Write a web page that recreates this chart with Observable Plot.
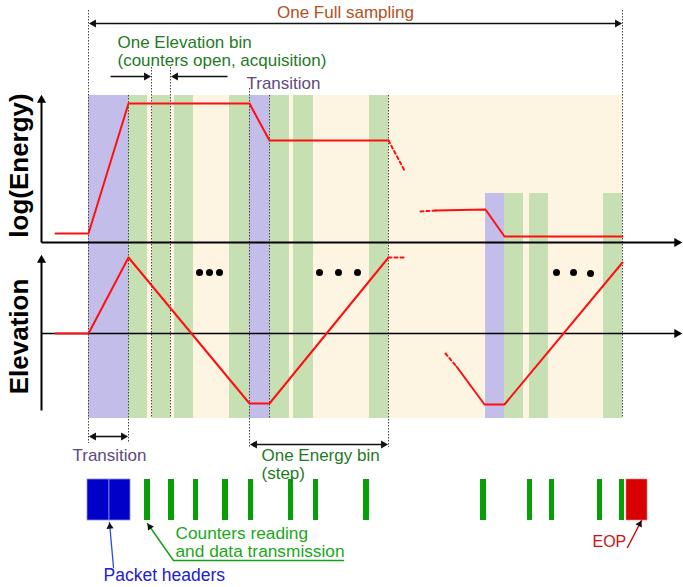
<!DOCTYPE html>
<html><head><meta charset="utf-8">
<script src="https://cdn.jsdelivr.net/npm/d3@7"></script>
<script src="https://cdn.jsdelivr.net/npm/@observablehq/plot@0.6"></script>
<style>body{margin:0;background:#fff}#chart svg{display:block}</style>
</head><body><div id="chart"></div>
<script>
// ---- schematic timeline data (time units along x, level units along y) ----
const samplingSpan = [88, 622];           // one full sampling: start / end time
const panelSpan = [95, 418];              // top / bottom of the acquisition panel
// transition periods [start, end, top level]
const transitions = [[88,128,95],[249,269,95],[485,504,193]];
// acquisition (counters open) periods [start, end, top level]
const acquisitions = [[128,147,95],[152,170,95],[174,193,95],[229,249,95],[269,289,95],[293,313,95],[369,388,95],
                      [504,523,193],[529,548,193],[603,622,193]];
// boundaries marked with dotted lines [time, from, to]
const boundaries = [[88,10,443],[128,95,443],[151,67,418],[170,67,418],[249,88,447],[269,95,418],[388,95,447],[622,10,418]];

// log(Energy) profile
const energySolidA = [[55,233],[88,233],[128,103],[249,103],[269,140],[388,140]];
const energyDashA  = [[388,140],[404,170]];
const energyDashB  = [[420,211],[435,210]];
const energySolidB = [[435,210],[485,209],[504,236],[622,236]];
// Elevation profile
const elevSolidA = [[55,333],[88,333],[128,257],[249,403],[269,403],[388,257]];
const elevDashA  = [[388,257],[403,257]];
const elevDashB  = [[445,353],[456,366]];
const elevSolidB = [[456,366],[484,404],[504,404],[622,262]];
// ellipsis dots
const ellipsis = [[199,272],[209,272],[219,272],[319,272],[338,272],[357,272],[556,272],[573,272],[590,273]];

// packet stream
const packetRow = [479, 520];
const headerPackets = [[87,109],[109,130]];
const dataPackets = [[144,150],[168,174],[193,198],[222,228],[248,253],[288,293],[313,318],[363,369],
                     [480,486],[527,532],[549,554],[597,602],[619,624]];
const eopPacket = [[626,647]];

// axes (arrows) [x1,y1,x2,y2]
const axisArrows = [[41,242,41,93],[41,242,683,242],[41,410,41,253],[41,333,683,333]];
// dimension arrows
const doubleArrows = [[88,23,622,23],[88,436,128,436],[249,444,388,444]];
const singleArrows = [[110,76,151,76],[227,76,170,76]];
// callout leaders
const packetLeader = [[113,567],[109,522]];
const counterLeader = [[343,560],[173,560],[147,523]];
const eopLeader = [[627,547],[641,520]];

// labels [text, x, y]
const labelsBrown = [["One Full sampling",345,12]];
const labelsDarkGreen = [["One Elevation bin",117,42],["(counters open, acquisition)",117,60],["One Energy bin",261,455],["(step)",261,473]];
const labelsPurple = [["Transition",246,83],["Transition",72,455]];
const labelsGreen = [["Counters reading",175,532.5],["and data transmission",175,551]];
const labelsBlue = [["Packet headers",103,575]];
const labelsRed = [["EOP",592,541]];
const axisTitles = [["log(Energy)",19,165],["Elevation",19,336]];

// ---- helpers ----
const pts = a => a.map(([x,y]) => ({x,y}));
function head(x1,y1,x2,y2,r){
  const dx=x2-x1, dy=y2-y1, L=Math.hypot(dx,dy), ux=dx/L, uy=dy/L;
  const k = Math.sqrt(Math.PI*r*r/(Math.sqrt(3)*3)); // centroid-to-base distance
  return {x:x2-ux*2*k, y:y2-uy*2*k, rot:Math.atan2(dx,-dy)*180/Math.PI, r, bx:x2-ux*2*k, by:y2-uy*2*k};
}
const axisHeads = axisArrows.map(([a,b,c,d]) => head(a,b,c,d,4.2));
const axisShafts = axisArrows.map(([a,b,c,d],i) => ({x1:a,y1:b,x2:axisHeads[i].bx,y2:axisHeads[i].by,w:i===3?1.5:2}));
const dimHeads = [], dimShafts = [];
for (const [a,b,c,d] of doubleArrows){
  const h1=head(a,b,c,d,3.3), h0=head(c,d,a,b,3.3);
  dimHeads.push(h1,h0); dimShafts.push({x1:h0.bx,y1:h0.by,x2:h1.bx,y2:h1.by});
}
for (const [a,b,c,d] of singleArrows){
  const h=head(a,b,c,d,3.3); dimHeads.push(h); dimShafts.push({x1:a,y1:b,x2:h.bx,y2:h.by});
}
const leaderHeads = [packetLeader, counterLeader, eopLeader].map(p => {
  const n=p.length; return head(p[n-2][0],p[n-2][1],p[n-1][0],p[n-1][1],2.6);
});

const rectsOf = (arr) => arr.map(([t0,t1,top]) => ({x1:t0,x2:t1,y1:top,y2:panelSpan[1]}));
const rowOf = (arr) => arr.map(([t0,t1]) => ({x1:t0,x2:t1,y1:packetRow[0],y2:packetRow[1]}));
const lab = a => a.map(([text,x,y]) => ({text,x,y}));

const RED="#ff1010";
const chart = Plot.plot({
  width: 683, height: 587,
  marginTop:0, marginRight:0, marginBottom:0, marginLeft:0,
  x: {domain:[0,683], range:[0,683], axis:null},
  y: {domain:[0,587], range:[0,587], axis:null},
  style: {fontFamily:"'Liberation Sans', Arial, sans-serif", background:"#fff"},
  marks: [
    Plot.rect([{x1:samplingSpan[0],x2:samplingSpan[1],y1:panelSpan[0],y2:panelSpan[1]}], {x1:"x1",x2:"x2",y1:"y1",y2:"y2",fill:"#fdf5e2"}),
    Plot.rect(rectsOf(acquisitions), {x1:"x1",x2:"x2",y1:"y1",y2:"y2",fill:"#c6e0b4"}),
    Plot.rect(rectsOf(transitions), {x1:"x1",x2:"x2",y1:"y1",y2:"y2",fill:"#c3bde9"}),
    Plot.ruleX(boundaries.map(([x,y1,y2])=>({x,y1,y2})), {x:"x",y1:"y1",y2:"y2",stroke:"#444",strokeWidth:1,strokeDasharray:"1.5,1.5"}),
    // axes
    Plot.link(axisShafts, {x1:"x1",y1:"y1",x2:"x2",y2:"y2",stroke:"#000",strokeWidth:d=>d.w}),
    Plot.dot(axisHeads, {x:"x",y:"y",r:"r",rotate:"rot",symbol:"triangle",fill:"#000",stroke:"none"}),
    // profiles
    Plot.line(pts(energySolidA), {x:"x",y:"y",stroke:RED,strokeWidth:2}),
    Plot.line(pts(energySolidB), {x:"x",y:"y",stroke:RED,strokeWidth:2}),
    Plot.line(pts(energyDashA), {x:"x",y:"y",stroke:RED,strokeWidth:2,strokeDasharray:"3,3"}),
    Plot.line(pts(energyDashB), {x:"x",y:"y",stroke:RED,strokeWidth:2,strokeDasharray:"3,3"}),
    Plot.line(pts(elevSolidA), {x:"x",y:"y",stroke:RED,strokeWidth:2}),
    Plot.line(pts(elevSolidB), {x:"x",y:"y",stroke:RED,strokeWidth:2}),
    Plot.line(pts(elevDashA), {x:"x",y:"y",stroke:RED,strokeWidth:2,strokeDasharray:"3,3"}),
    Plot.line(pts(elevDashB), {x:"x",y:"y",stroke:RED,strokeWidth:2,strokeDasharray:"3,3"}),
    Plot.dot(pts(ellipsis), {x:"x",y:"y",r:3.5,fill:"#000"}),
    // dimension arrows
    Plot.link(dimShafts, {x1:"x1",y1:"y1",x2:"x2",y2:"y2",stroke:"#111",strokeWidth:1.6}),
    Plot.dot(dimHeads, {x:"x",y:"y",r:"r",rotate:"rot",symbol:"triangle",fill:"#111",stroke:"none"}),
    // packet stream
    Plot.rect(rowOf(headerPackets), {x1:"x1",x2:"x2",y1:"y1",y2:"y2",fill:"#0000c8",stroke:"#8c8cf0",strokeWidth:0.8}),
    Plot.rect(rowOf(dataPackets), {x1:"x1",x2:"x2",y1:"y1",y2:"y2",fill:"#06a006"}),
    Plot.rect(rowOf(eopPacket), {x1:"x1",x2:"x2",y1:"y1",y2:"y2",fill:"#d80000",stroke:"#f08080",strokeWidth:0.6}),
    // callouts
    Plot.line(pts(packetLeader), {x:"x",y:"y",stroke:"#2a4ae8",strokeWidth:1.3}),
    Plot.line(pts(counterLeader), {x:"x",y:"y",stroke:"#17a017",strokeWidth:1.5}),
    Plot.line(pts(eopLeader), {x:"x",y:"y",stroke:"#d01010",strokeWidth:1.5}),
    Plot.dot(leaderHeads, {x:"x",y:"y",r:"r",rotate:"rot",symbol:"triangle",fill:"#111",stroke:"none"}),
    // labels
    Plot.text(lab(labelsBrown), {x:"x",y:"y",text:"text",fill:"#b4501c",fontSize:17}),
    Plot.text(lab(labelsDarkGreen), {x:"x",y:"y",text:"text",textAnchor:"start",fill:"#1f7a1f",fontSize:17}),
    Plot.text(lab(labelsPurple), {x:"x",y:"y",text:"text",textAnchor:"start",fill:"#5c4a7e",fontSize:17}),
    Plot.text(lab(labelsGreen), {x:"x",y:"y",text:"text",textAnchor:"start",fill:"#1aa81a",fontSize:17.3}),
    Plot.text(lab(labelsBlue), {x:"x",y:"y",text:"text",textAnchor:"start",fill:"#2020d0",fontSize:17.5}),
    Plot.text(lab(labelsRed), {x:"x",y:"y",text:"text",textAnchor:"start",fill:"#d01010",fontSize:16}),
    Plot.text(lab(axisTitles), {x:"x",y:"y",text:"text",rotate:-90,fill:"#000",fontSize:26,fontWeight:"bold"})
  ]
});
document.getElementById("chart").append(chart);
</script></body></html>
